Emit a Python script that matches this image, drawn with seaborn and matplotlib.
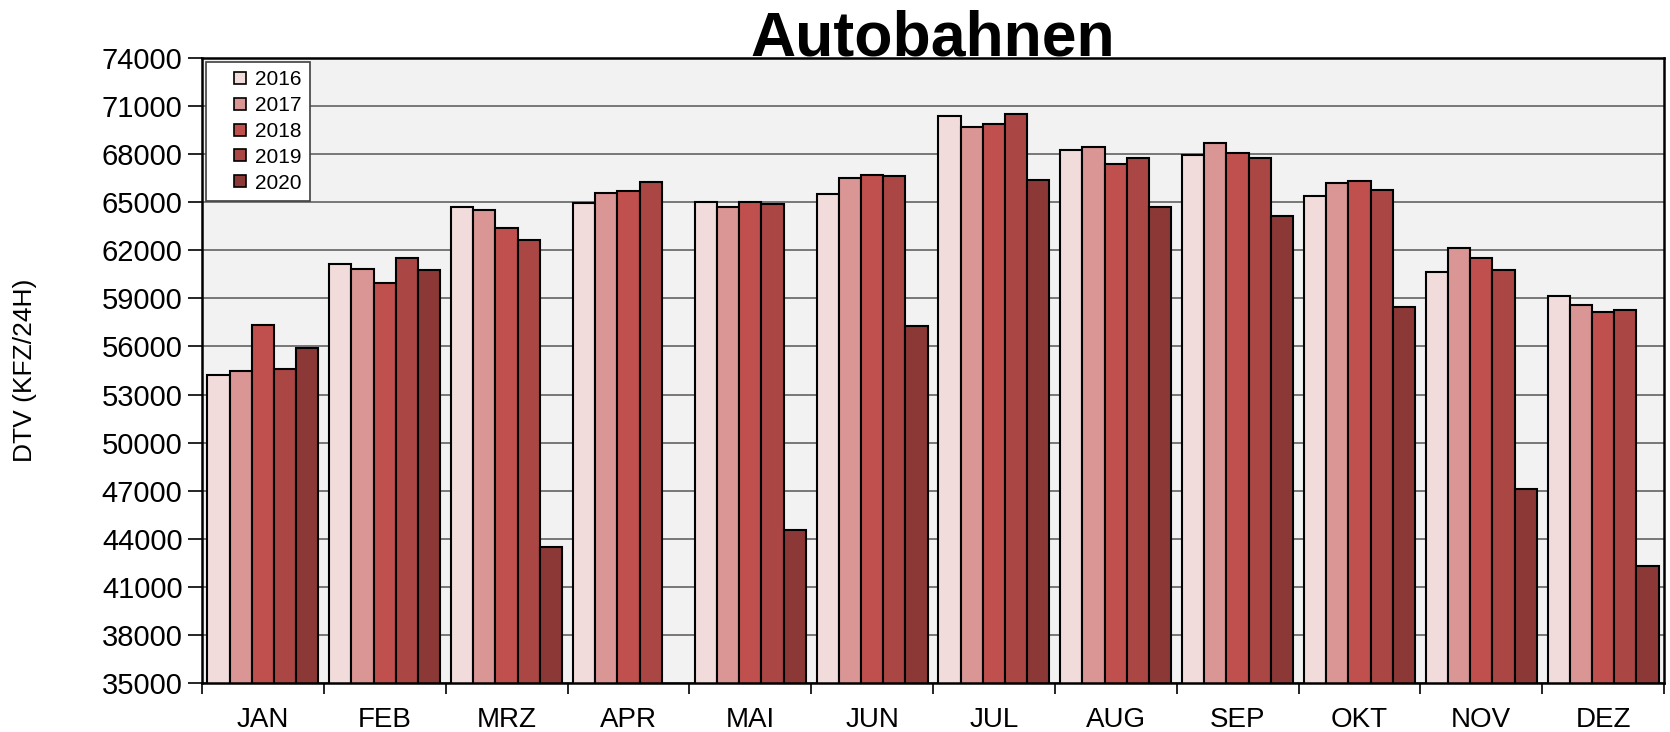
import numpy as np
import pandas as pd
import seaborn as sns
import matplotlib.pyplot as plt
from matplotlib.lines import Line2D
from matplotlib.ticker import FixedLocator

monate = ['JAN', 'FEB', 'MRZ', 'APR', 'MAI', 'JUN', 'JUL', 'AUG', 'SEP', 'OKT', 'NOV', 'DEZ']
jahre = ['2016', '2017', '2018', '2019', '2020']

dtv_2016 = [54235, 61163, 64729, 64933, 65035, 65518, 70409, 68269, 67938, 65391, 60628, 59125]
dtv_2017 = [54490, 60832, 64500, 65595, 64729, 66512, 69696, 68422, 68677, 66206, 62156, 58565]
dtv_2018 = [57343, 59941, 63379, 65722, 64984, 66716, 69899, 67403, 68091, 66308, 61494, 58158]
dtv_2019 = [54592, 61545, 62640, 66283, 64907, 66639, 70511, 67734, 67785, 65748, 60781, 58260]
# APR 2020 fehlt in der Vorlage
dtv_2020 = [55916, 60781, 43461, np.nan, 44557, 57292, 66359, 64678, 64143, 58463, 47129, 42290]

farben = ['#f2dcdb', '#da9694', '#c0504d', '#aa4644', '#8c3836']
y_ticks = list(range(35000, 74001, 3000))

werte = [dtv_2016, dtv_2017, dtv_2018, dtv_2019, dtv_2020]
rows = []
for jahr, serie in zip(jahre, werte):
    for monat, v in zip(monate, serie):
        rows.append({'Monat': monat, 'Jahr': jahr, 'DTV': v})
df = pd.DataFrame(rows).dropna()

sns.set_style('ticks')
plt.rcParams['font.family'] = ['Liberation Sans', 'DejaVu Sans']
plt.rcParams['text.color'] = 'black'
plt.rcParams['axes.labelcolor'] = 'black'
plt.rcParams['xtick.color'] = 'black'
plt.rcParams['ytick.color'] = 'black'

fig = plt.figure(figsize=(16.7, 7.32), dpi=100)
ax = fig.add_axes([202 / 1670, 49 / 732, 1462 / 1670, 625 / 732])
ax.set_facecolor('#f2f2f2')

sns.barplot(data=df, x='Monat', y='DTV', hue='Jahr', order=monate, hue_order=jahre,
            palette=farben, width=0.91, gap=0, edgecolor='black', linewidth=1.5,
            saturation=1, legend=False, ax=ax, zorder=2)

ax.set_ylim(35000, 74000)
ax.set_xlim(-0.5, 11.5)
ax.yaxis.set_major_locator(FixedLocator(y_ticks))
ax.grid(axis='y', color='#6e6e6e', linewidth=1.3, zorder=0)
ax.set_axisbelow(True)

for s in ax.spines.values():
    s.set_visible(True)
    s.set_color('black')
    s.set_linewidth(1.8)

ax.tick_params(axis='y', direction='out', length=10, width=1.2, pad=4, labelsize=21)
ax.tick_params(axis='x', which='major', length=0, pad=17, labelsize=20)
ax.xaxis.set_minor_locator(FixedLocator(np.arange(-0.5, 12, 1)))
ax.tick_params(axis='x', which='minor', direction='out', length=8, width=1.2)

ax.set_xlabel('')
ax.set_ylabel('DTV (KFZ/24H)', fontsize=19)
ax.yaxis.set_label_coords(-0.113, 0.5)

handles = [Line2D([], [], marker='s', linestyle='', markersize=8.5, markerfacecolor=c,
                  markeredgecolor='black', markeredgewidth=1.2) for c in farben]
leg = ax.legend(handles, jahre, loc='upper left', bbox_to_anchor=(0.003, 0.994), borderaxespad=0,
                fontsize=15, frameon=True, fancybox=False, framealpha=1, edgecolor='#404040',
                handlelength=2.4, handletextpad=-0.45, labelspacing=0.33, borderpad=0.4)
leg.get_frame().set_linewidth(1.2)
leg.set_zorder(5)

fig.text(933 / 1670, 1 - 55 / 732, 'Autobahnen', ha='center', va='baseline',
         fontsize=45, fontweight='bold')

fig.savefig('out.png', dpi=100, facecolor='white')
